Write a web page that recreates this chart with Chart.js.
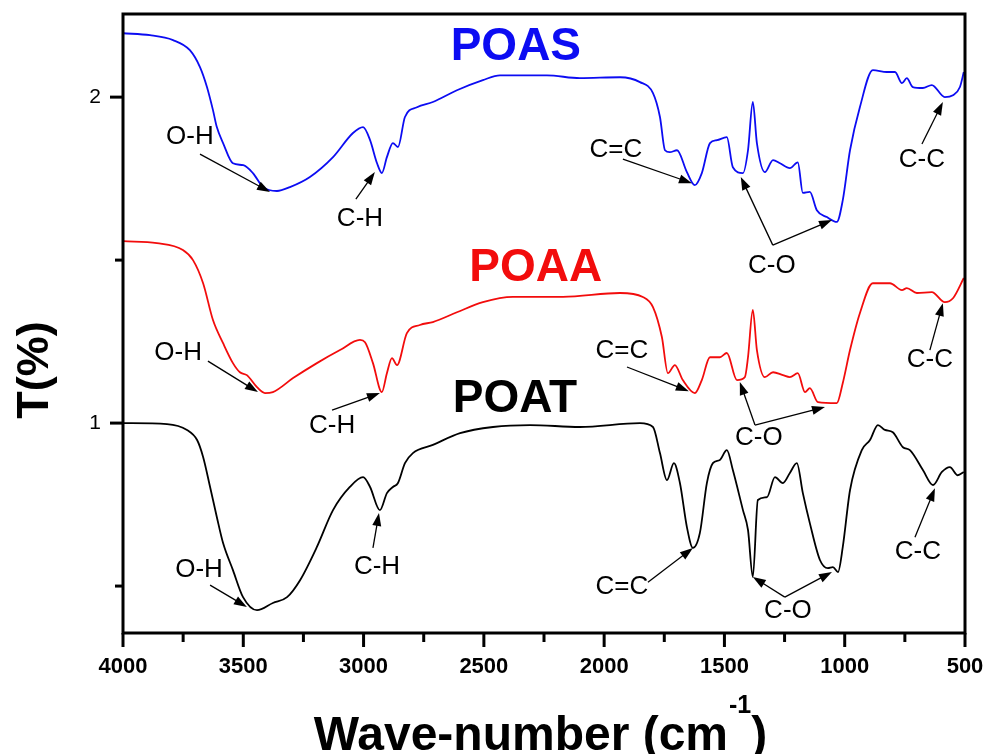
<!DOCTYPE html>
<html>
<head>
<meta charset="utf-8">
<title>FTIR POAS / POAA / POAT</title>
<script src="https://cdn.jsdelivr.net/npm/chart.js@4.4.0/dist/chart.umd.min.js"></script>
<style>
  html, body { margin: 0; padding: 0; background: #fff; }
  #wrap { width: 985px; height: 754px; position: relative; }
</style>
</head>
<body>
<div id="wrap"><canvas id="ftirChart"></canvas></div>
<script>
// ---- data (wave-number in cm-1, transmittance offset) ----
const poasWave = [4000,3888,3792,3722,3680,3651,3626,3610,3584,3543,3500,3460,3418,3360,3306,3223,3127,3044,3002,2973,2944,2924,2903,2878,2857,2828,2778,2712,2612,2504,2433,2238,2101,1934,1851,1797,1768,1747,1727,1697,1656,1623,1594,1560,1531,1490,1465,1423,1402,1382,1365,1332,1298,1269,1228,1195,1174,1145,1116,1074,1033,1008,978,937,883,825,791,762,742,717,675,638,584,550,521,505];
const poasT    = [2.196,2.19,2.175,2.144,2.092,2.031,1.96,1.908,1.859,1.797,1.791,1.767,1.724,1.712,1.724,1.755,1.816,1.89,1.908,1.868,1.797,1.767,1.816,1.859,1.847,1.939,1.969,1.985,2.021,2.052,2.067,2.067,2.058,2.061,2.046,2.012,1.939,1.837,1.831,1.837,1.77,1.73,1.767,1.859,1.868,1.877,1.785,1.767,1.837,1.985,1.859,1.77,1.807,1.797,1.782,1.80,1.706,1.709,1.653,1.632,1.617,1.684,1.837,1.969,2.083,2.077,2.077,2.043,2.058,2.031,2.028,2.037,2.0,2.006,2.031,2.077];

const poaaWave = [4000,3859,3751,3709,3667,3626,3584,3543,3514,3485,3443,3410,3377,3293,3194,3098,3015,2994,2961,2924,2903,2882,2861,2820,2766,2712,2612,2504,2379,2171,1934,1839,1797,1760,1735,1706,1673,1623,1594,1560,1519,1490,1448,1415,1402,1382,1365,1332,1298,1257,1228,1195,1165,1145,1111,1033,1008,978,937,883,812,762,742,700,638,584,550,505];
const poaaT    = [1.558,1.552,1.531,1.5,1.429,1.316,1.245,1.184,1.156,1.147,1.11,1.092,1.095,1.138,1.184,1.224,1.255,1.248,1.184,1.095,1.153,1.199,1.178,1.276,1.301,1.31,1.34,1.371,1.387,1.387,1.399,1.387,1.356,1.264,1.153,1.178,1.132,1.092,1.132,1.202,1.202,1.215,1.132,1.141,1.202,1.347,1.224,1.141,1.156,1.147,1.141,1.153,1.095,1.107,1.064,1.061,1.123,1.224,1.337,1.429,1.429,1.408,1.414,1.399,1.402,1.371,1.383,1.445];

const poatWave = [4000,3817,3734,3692,3667,3638,3610,3584,3543,3501,3443,3377,3318,3264,3194,3127,3057,3002,2973,2932,2903,2878,2857,2828,2795,2712,2599,2462,2308,2101,1851,1797,1768,1739,1710,1685,1656,1631,1602,1573,1548,1519,1490,1465,1423,1402,1382,1361,1323,1290,1257,1228,1199,1174,1145,1103,1070,1049,1028,1008,978,929,895,862,833,800,758,729,675,633,596,563,530,505];
const poatT    = [1.0,0.997,0.979,0.948,0.896,0.804,0.712,0.632,0.549,0.466,0.426,0.448,0.466,0.518,0.62,0.733,0.804,0.834,0.804,0.733,0.785,0.804,0.816,0.877,0.908,0.933,0.969,0.988,0.994,0.988,1.0,0.988,0.908,0.825,0.877,0.816,0.681,0.617,0.663,0.816,0.877,0.887,0.917,0.856,0.733,0.672,0.528,0.764,0.773,0.834,0.816,0.847,0.877,0.785,0.693,0.58,0.555,0.558,0.543,0.62,0.794,0.917,0.948,0.994,0.979,0.972,0.926,0.917,0.856,0.81,0.85,0.865,0.84,0.85];

// axis ticks
const xMajorTicks = [4000,3500,3000,2500,2000,1500,1000,500];
const xMinorTicks = [3750,3250,2750,2250,1750,1250,750];
const yMajorTicks = [1,2];
const yMinorTicks = [0.5,1.5];

// series names and where they sit (data coords)
const seriesNames = ['POAS','POAA','POAT'];
const seriesColors = ['#0c0cf2','#f20c0c','#000000'];
const seriesLabelAt = [[2367,2.153],[2284,1.475],[2371,1.074]];

// band labels: text, label position, arrows [from, to] (data coords)
const bandNotes = [
  // POAS
  {t:'O-H', at:[3722,1.877], arrows:[[[3680,1.825],[3389,1.709]]]},
  {t:'C-H', at:[3015,1.626], arrows:[[[3032,1.687],[2953,1.770]]]},
  {t:'C=C', at:[1951,1.837], arrows:[[[1922,1.810],[1635,1.736]]]},
  {t:'C-O', at:[1303,1.482], arrows:[[[1299,1.546],[1432,1.755]],[[1299,1.546],[1053,1.623]]]},
  {t:'C-C', at:[679,1.807],  arrows:[[[679,1.856],[592,1.985]]]},
  // POAA
  {t:'O-H', at:[3771,1.215], arrows:[[[3647,1.190],[3439,1.095]]]},
  {t:'C-H', at:[3131,0.991], arrows:[[[3131,1.040],[2932,1.092]]]},
  {t:'C=C', at:[1926,1.221], arrows:[[[1905,1.172],[1648,1.098]]]},
  {t:'C-O', at:[1357,0.954], arrows:[[[1373,0.994],[1436,1.126]],[[1373,0.994],[1082,1.049]]]},
  {t:'C-C', at:[646,1.193],  arrows:[[[646,1.224],[592,1.368]]]},
  // POAT
  {t:'O-H', at:[3684,0.549], arrows:[[[3638,0.503],[3485,0.436]]]},
  {t:'C-H', at:[2944,0.558], arrows:[[[2961,0.617],[2936,0.724]]]},
  {t:'C=C', at:[1926,0.497], arrows:[[[1818,0.512],[1631,0.617]]]},
  {t:'C-O', at:[1236,0.423], arrows:[[[1249,0.466],[1382,0.528]],[[1249,0.466],[1053,0.543]]]},
  {t:'C-C', at:[696,0.604],  arrows:[[[708,0.650],[625,0.800]]]}
];

const FONT = '"Liberation Sans", Arial, Helvetica, sans-serif';

function toPoints(xs, ys) {
  return xs.map((x, i) => ({x: x, y: ys[i]}));
}

function drawArrow(ctx, x1, y1, x2, y2) {
  const ang = Math.atan2(y2 - y1, x2 - x1);
  const head = 13, half = 4.5;
  ctx.beginPath();
  ctx.moveTo(x1, y1);
  ctx.lineTo(x2 - Math.cos(ang) * head * 0.8, y2 - Math.sin(ang) * head * 0.8);
  ctx.stroke();
  ctx.beginPath();
  ctx.moveTo(x2, y2);
  ctx.lineTo(x2 - head * Math.cos(ang) + half * Math.sin(ang), y2 - head * Math.sin(ang) - half * Math.cos(ang));
  ctx.lineTo(x2 - head * Math.cos(ang) - half * Math.sin(ang), y2 - head * Math.sin(ang) + half * Math.cos(ang));
  ctx.closePath();
  ctx.fill();
}

// frame, ticks, axis titles and annotations
const decorPlugin = {
  id: 'decor',
  afterDraw(chart) {
    const ctx = chart.ctx;
    const xs = chart.scales.x, ys = chart.scales.y;
    const a = chart.chartArea;
    ctx.save();

    // band notes
    ctx.fillStyle = '#000';
    ctx.strokeStyle = '#000';
    ctx.lineWidth = 1.3;
    ctx.font = '26px ' + FONT;
    ctx.textAlign = 'center';
    ctx.textBaseline = 'middle';
    bandNotes.forEach(n => {
      ctx.fillText(n.t, xs.getPixelForValue(n.at[0]), ys.getPixelForValue(n.at[1]));
      n.arrows.forEach(ar => {
        drawArrow(ctx,
          xs.getPixelForValue(ar[0][0]), ys.getPixelForValue(ar[0][1]),
          xs.getPixelForValue(ar[1][0]), ys.getPixelForValue(ar[1][1]));
      });
    });

    // series names
    ctx.font = 'bold 46px ' + FONT;
    seriesNames.forEach((s, i) => {
      ctx.fillStyle = seriesColors[i];
      ctx.fillText(s, xs.getPixelForValue(seriesLabelAt[i][0]), ys.getPixelForValue(seriesLabelAt[i][1]));
    });

    // frame
    ctx.strokeStyle = '#000';
    ctx.lineWidth = 3;
    ctx.strokeRect(a.left, a.top, a.right - a.left, a.bottom - a.top);

    // x ticks
    ctx.lineWidth = 3;
    xMajorTicks.forEach(v => {
      const px = xs.getPixelForValue(v);
      ctx.beginPath(); ctx.moveTo(px, a.bottom); ctx.lineTo(px, a.bottom + 14); ctx.stroke();
    });
    xMinorTicks.forEach(v => {
      const px = xs.getPixelForValue(v);
      ctx.beginPath(); ctx.moveTo(px, a.bottom); ctx.lineTo(px, a.bottom + 9); ctx.stroke();
    });
    // y ticks
    yMajorTicks.forEach(v => {
      const py = ys.getPixelForValue(v);
      ctx.beginPath(); ctx.moveTo(a.left, py); ctx.lineTo(a.left - 13, py); ctx.stroke();
    });
    yMinorTicks.forEach(v => {
      const py = ys.getPixelForValue(v);
      ctx.beginPath(); ctx.moveTo(a.left, py); ctx.lineTo(a.left - 8, py); ctx.stroke();
    });

    // tick labels
    ctx.fillStyle = '#000';
    ctx.font = 'bold 22px ' + FONT;
    ctx.textAlign = 'center';
    ctx.textBaseline = 'middle';
    xMajorTicks.forEach(v => ctx.fillText(String(v), xs.getPixelForValue(v), a.bottom + 34));
    ctx.font = '21px ' + FONT;
    ctx.textAlign = 'right';
    yMajorTicks.forEach(v => ctx.fillText(String(v), a.left - 22, ys.getPixelForValue(v)));

    // x title with superscript
    const main = 'Wave-number (cm', sup = '-1', tail = ')';
    ctx.textAlign = 'left';
    ctx.textBaseline = 'alphabetic';
    ctx.font = 'bold 48px ' + FONT;
    const wMain = ctx.measureText(main).width, wTail = ctx.measureText(tail).width;
    ctx.font = 'bold 25px ' + FONT;
    const wSup = ctx.measureText(sup).width;
    let tx = (a.left + a.right) / 2 - 4 - (wMain + wSup + wTail) / 2;
    const base = a.bottom + 117;
    ctx.font = 'bold 48px ' + FONT;
    ctx.fillText(main, tx, base);
    ctx.font = 'bold 25px ' + FONT;
    ctx.fillText(sup, tx + wMain + 1, base - 37);
    ctx.font = 'bold 48px ' + FONT;
    ctx.fillText(tail, tx + wMain + wSup + 1, base);

    // y title
    ctx.translate(36, 370);
    ctx.rotate(-Math.PI / 2);
    ctx.textAlign = 'center';
    ctx.textBaseline = 'middle';
    ctx.font = 'bold 45px ' + FONT;
    ctx.fillText('T(%)', 0, 0);

    ctx.restore();
  }
};

const ctx = document.getElementById('ftirChart').getContext('2d');
const ftirChart = new Chart(ctx, {
  type: 'line',
  data: {
    datasets: [
      {label: seriesNames[0], data: toPoints(poasWave, poasT), borderColor: seriesColors[0]},
      {label: seriesNames[1], data: toPoints(poaaWave, poaaT), borderColor: seriesColors[1]},
      {label: seriesNames[2], data: toPoints(poatWave, poatT), borderColor: seriesColors[2]}
    ]
  },
  options: {
    responsive: true,
    maintainAspectRatio: false,
    animation: false,
    layout: {padding: {left: 123, top: 14, right: 20, bottom: 121}},
    elements: {
      point: {radius: 0},
      line: {borderWidth: 1.8, cubicInterpolationMode: 'monotone', fill: false}
    },
    scales: {
      x: {type: 'linear', reverse: true, min: 500, max: 4000, display: false},
      y: {type: 'linear', min: 0.356, max: 2.255, display: false}
    },
    plugins: {
      legend: {display: false},
      tooltip: {enabled: false}
    }
  },
  plugins: [decorPlugin]
});
</script>
</body>
</html>
